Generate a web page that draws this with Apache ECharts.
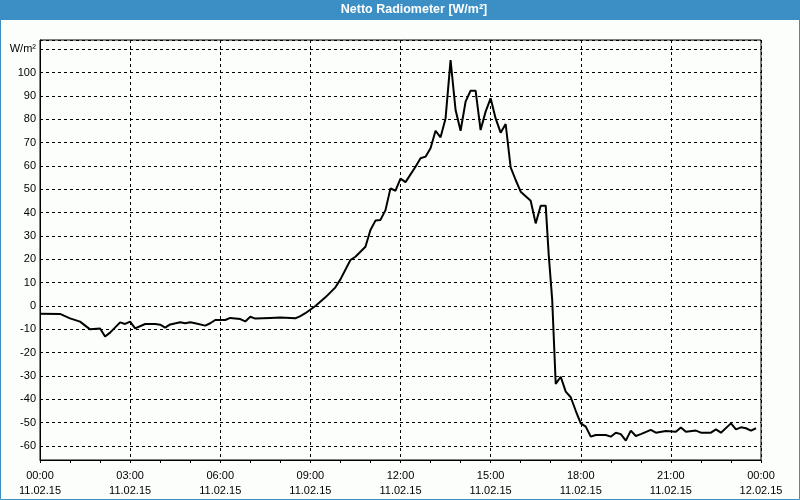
<!DOCTYPE html>
<html>
<head>
<meta charset="utf-8">
<script src="https://cdn.jsdelivr.net/npm/echarts@6/dist/echarts.min.js"></script>
<style>
html,body{margin:0;padding:0;background:#fcfefc;}
#chart{width:800px;height:500px;}
</style>
</head>
<body>
<div id="chart"></div>
<script>
const chartTitle = 'Netto Radiometer [W/m²]';
const yUnit = 'W/m²';
const tickTimes = ['00:00','03:00','06:00','09:00','12:00','15:00','18:00','21:00','00:00'];
const tickDates = ['11.02.15','11.02.15','11.02.15','11.02.15','11.02.15','11.02.15','11.02.15','11.02.15','12.02.15'];

const times = ['00:00','00:40','01:00','01:20','01:40','02:00','02:10','02:20','02:40','02:50',
  '03:00','03:10','03:30','03:50','04:00','04:10','04:20','04:40','04:50','05:00',
  '05:10','05:30','05:40','05:50','06:10','06:20','06:40','06:50','07:00','07:10',
  '07:40','08:00','08:30','08:40','08:50','09:10','09:30','09:50','10:00','10:20',
  '10:30','10:50','11:00','11:10','11:20','11:30','11:40','11:50','12:00','12:10',
  '12:30','12:40','12:50','13:00','13:10','13:20','13:30','13:40','13:50','14:00',
  '14:10','14:20','14:30','14:40','14:50','15:00','15:10','15:20','15:30','15:40',
  '15:50','16:00','16:20','16:30','16:40','16:50','16:56','17:03','17:10','17:20',
  '17:30','17:40','17:50','18:00','18:10','18:20','18:30','18:50','19:00','19:10',
  '19:20','19:30','19:40','19:50','20:00','20:20','20:30','20:50','21:10','21:20',
  '21:30','21:50','22:00','22:20','22:30','22:40','23:00','23:10','23:20','23:30',
  '23:40','23:50'];
const netRadiation = [-3.3,-3.4,-5.3,-6.7,-10,-9.6,-13.1,-11.4,-7,-7.7,
  -6.7,-9.6,-7.7,-7.7,-8,-9.3,-7.9,-7,-7.4,-7,
  -7.4,-8.4,-7.4,-6,-6,-5.1,-5.6,-6.6,-4.6,-5.4,
  -5.1,-4.9,-5.3,-4.3,-3.1,0,3.7,8,11.4,19.7,
  21.1,25.4,32.6,36.6,36.9,41.1,50.4,49.4,54.6,53.1,
  59.7,63.3,64,67.6,75.1,72.3,80.4,105.4,84,75.1,
  87.6,92.3,92.3,75.4,83.3,89,80.4,74.3,78,59.4,
  54,49,45.1,35.4,43,43,22,2.6,-33.4,-30.3,
  -36.7,-39.1,-44.9,-50.3,-51.7,-56,-55.3,-55.3,-56,-54.3,
  -54.9,-57.7,-53.4,-55.7,-54.9,-53.1,-54.3,-53.6,-53.9,-52.1,
  -53.9,-53.4,-54.3,-54.3,-52.9,-54.3,-50.3,-52.9,-52,-52.4,
  -53.4,-52.4];

function toMinutes(t){const p=t.split(':');return (+p[0])*60+(+p[1]);}
const seriesData = times.map((t,i)=>[toMinutes(t), netRadiation[i]]);

const FONT = '"Liberation Sans", Arial, sans-serif';
const chart = echarts.init(document.getElementById('chart'), null, {renderer:'canvas'});
chart.setOption({
  backgroundColor:'#fcfefc',
  animation:false,
  graphic:[
    {type:'rect', shape:{x:0,y:0,width:800,height:20}, style:{fill:'#3b8fc4'}, z:10},
    {type:'rect', shape:{x:0.5,y:0.5,width:799,height:499}, style:{fill:null, stroke:'#3b8fc4', lineWidth:1}, z:10},
    {type:'text', x:414, y:10, z:11, style:{text:chartTitle, fill:'#ffffff', font:'bold 12.5px ' + FONT, align:'center', verticalAlign:'middle'}}
  ],
  grid:{left:40, right:39, top:40, bottom:40, show:true, borderColor:'#000', borderWidth:1, backgroundColor:'transparent'},
  xAxis:{
    type:'value', min:0, max:1440, interval:180,
    axisLine:{show:true, onZero:false, lineStyle:{color:'#000', width:1}},
    axisTick:{show:true, inside:false, length:3, lineStyle:{color:'#000'}},
    minorTick:{show:true, splitNumber:3, length:3, lineStyle:{color:'#000'}},
    splitLine:{show:true, lineStyle:{color:'#000', type:[3,3], width:1}},
    axisLabel:{
      margin:8, color:'#000', fontSize:11, fontFamily:FONT, lineHeight:15,
      showMinLabel:true, showMaxLabel:true,
      formatter:function(v){const i=Math.round(v/180);return tickTimes[i]+'\n'+tickDates[i];}
    }
  },
  yAxis:{
    type:'value', min:-66, max:114, splitNumber:18,
    axisLine:{show:true, onZero:false, lineStyle:{color:'#000', width:1}},
    axisTick:{show:false},
    splitLine:{show:true, lineStyle:{color:'#000', type:[3,3], width:1}},
    axisLabel:{
      margin:4, color:'#000', fontSize:11, fontFamily:FONT,
      formatter:function(v){
        if (Math.abs(v % 10) > 1e-6) return '';
        if (v === 110) return yUnit;
        return String(v);
      }
    }
  },
  series:[{
    type:'line', data:seriesData, showSymbol:false, symbol:'none',
    lineStyle:{color:'#000', width:2}, itemStyle:{color:'#000'}
  }]
});
</script>
</body>
</html>
